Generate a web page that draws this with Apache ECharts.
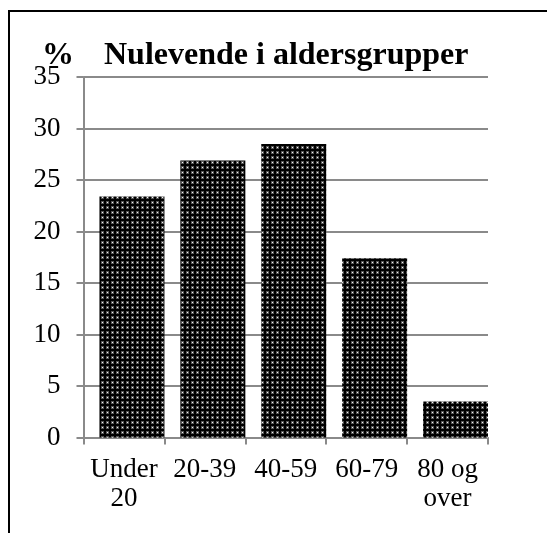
<!DOCTYPE html>
<html>
<head>
<meta charset="utf-8">
<script src="https://cdn.jsdelivr.net/npm/echarts@6/dist/echarts.min.js"></script>
<style>
  html, body { margin: 0; padding: 0; background: #fff; }
  #chart { width: 547px; height: 533px; }
</style>
</head>
<body>
<div id="chart"></div>
<script>
const categories = ['Under\n20', '20-39', '40-59', '60-79', '80 og\nover']
const shares = [23.4, 26.9, 28.5, 17.4, 3.5]
const yTicks = { min: 0, max: 35, interval: 5 }

const fontFamily = '"Liberation Serif", "Times New Roman", serif'
const axisGray = '#8a8a8a'

// dotted fill like the original (black with light dots)
function dotPattern() {
  const c = document.createElement('canvas')
  c.width = 5
  c.height = 5
  const ctx = c.getContext('2d')
  ctx.fillStyle = '#000'
  ctx.fillRect(0, 0, 5, 5)
  ctx.fillStyle = '#555'
  ctx.fillRect(1, 1, 3, 3)
  ctx.fillStyle = '#f5f5f5'
  ctx.fillRect(2, 2, 1, 1)
  return c
}

const chart = echarts.init(document.getElementById('chart'))

chart.setOption({
  animation: false,
  textStyle: { fontFamily },
  graphic: [{
    type: 'rect',
    shape: { x: 9, y: 11, width: 700, height: 700 },
    style: { fill: 'none', stroke: '#000', lineWidth: 2 },
    silent: true
  }],
  title: [{
    text: '%',
    left: 37,
    top: 35,
    textStyle: { fontFamily, fontSize: 32, fontWeight: 'bold', color: '#000' }
  }, {
    text: 'Nulevende i aldersgrupper',
    left: 99,
    top: 35,
    textStyle: { fontFamily, fontSize: 32, fontWeight: 'bold', color: '#000' }
  }],
  grid: {
    left: 83.5,
    right: 59,
    top: 77,
    bottom: 95.5,
    containLabel: false
  },
  xAxis: {
    type: 'category',
    data: categories,
    axisLine: { lineStyle: { color: axisGray, width: 2 } },
    axisTick: { show: true, length: 7, lineStyle: { color: axisGray, width: 2 } },
    axisLabel: {
      color: '#000',
      fontFamily,
      fontSize: 27,
      lineHeight: 29,
      margin: 18,
      interval: 0
    }
  },
  yAxis: {
    type: 'value',
    min: yTicks.min,
    max: yTicks.max,
    interval: yTicks.interval,
    axisLine: { show: true, lineStyle: { color: axisGray, width: 2 } },
    axisTick: { show: true, length: 7, lineStyle: { color: axisGray, width: 2 } },
    splitLine: { lineStyle: { color: axisGray, width: 2 } },
    axisLabel: {
      color: '#000',
      fontFamily,
      fontSize: 27,
      margin: 23
    }
  },
  series: [{
    // spacer, pushes the bars to the right side of each band
    name: 'spacer',
    type: 'bar',
    data: shares,
    barWidth: 16,
    barGap: '0%',
    silent: true,
    itemStyle: { color: 'rgba(0,0,0,0)' }
  }, {
    name: 'Nulevende',
    type: 'bar',
    data: shares,
    barWidth: 65,
    barGap: '0%',
    itemStyle: { color: { image: dotPattern(), repeat: 'repeat' } }
  }]
})
</script>
</body>
</html>
